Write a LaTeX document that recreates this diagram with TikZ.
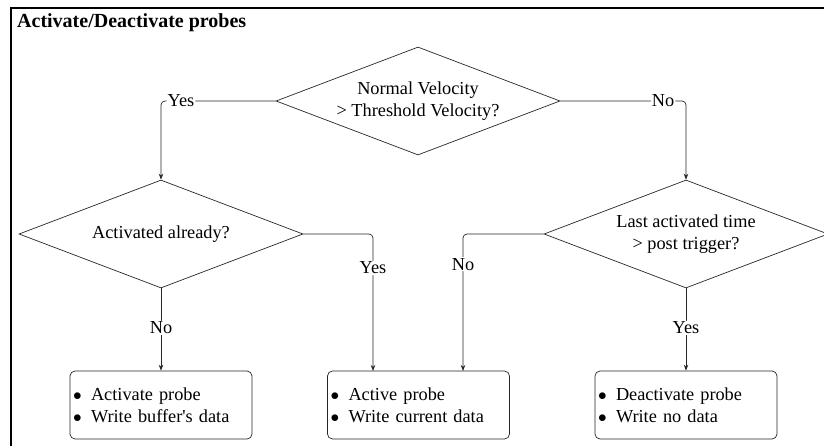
\documentclass[tikz,border=0pt]{standalone}
\usepackage{fontspec}
\setmainfont{Liberation Serif}
\usetikzlibrary{shapes.geometric,arrows.meta}

\begin{document}
\begin{tikzpicture}[x=1pt,y=-1pt,
  decision/.style={diamond,draw=black!85,line width=0.7pt,aspect=2.63,minimum width=284pt,minimum height=108pt,inner sep=0pt,align=center,font=\fontsize{18.3}{22}\selectfont},
  action/.style={draw=black!85,line width=0.7pt,rounded corners=5pt,minimum width=182pt,minimum height=68pt,inner xsep=3pt,text width=176pt,align=left,font=\fontsize{18.3}{22}\selectfont},
  flow/.style={draw=black!85,line width=0.7pt,rounded corners=4pt,-{Stealth[length=6pt,width=4.5pt]}},
  answer/.style={fill=white,inner sep=1pt,font=\fontsize{18.3}{22}\selectfont}]
\useasboundingbox (0,0) rectangle (824,446);
\clip (0,0) rectangle (824,446);
\draw[line width=2pt] (11,8) rectangle (840,460);
\node[anchor=base west,inner sep=0pt,font=\bfseries\fontsize{20}{24}\selectfont] (title) at (17,28) {Activate/Deactivate probes};

\node[decision] (velo) at (418,101) {Normal Velocity\\> Threshold Velocity?};
\node[decision] (already) at (161,234) {Activated already?};
\node[decision] (lasttime) at (686,234) {Last activated time\\> post trigger?};

\node[action] (activate) at (161,405) {\makebox[18pt][l]{$\bullet$}Activate probe\\\makebox[18pt][l]{$\bullet$}Write buffer\textquotesingle s data};
\node[action] (current) at (418.5,405) {\makebox[18pt][l]{$\bullet$}Active probe\\\makebox[18pt][l]{$\bullet$}Write current data};
\node[action] (deactivate) at (686,405) {\makebox[18pt][l]{$\bullet$}Deactivate probe\\\makebox[18pt][l]{$\bullet$}Write no data};

\coordinate (midyes) at (373,371);
\coordinate (midno) at (463,371);

\draw[flow] (velo.west) -| node[answer,pos=0.413]{Yes} (already.north);
\draw[flow] (velo.east) -| node[answer,pos=0.409]{No} (lasttime.north);
\draw[flow] (already.south) -- node[answer,pos=0.48]{No} (activate.north);
\draw[flow] (already.east) -| node[answer,pos=0.624]{Yes} (midyes);
\draw[flow] (lasttime.west) -| node[answer,pos=0.61]{No} (midno);
\draw[flow] (lasttime.south) -- node[answer,pos=0.48]{Yes} (deactivate.north);

\end{tikzpicture}
\end{document}
